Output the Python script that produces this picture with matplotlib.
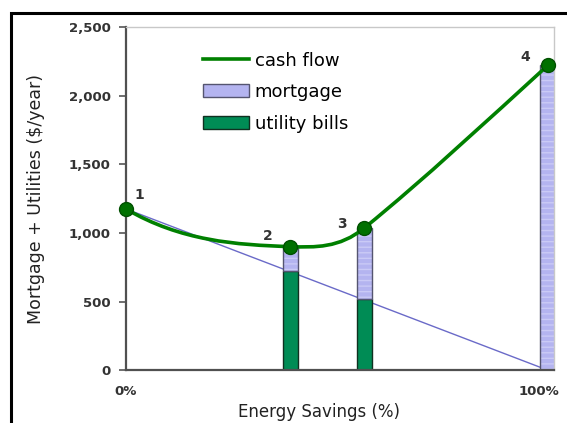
import matplotlib.pyplot as plt
from matplotlib.path import Path
from matplotlib.patches import PathPatch, Rectangle
from matplotlib.lines import Line2D
from matplotlib.transforms import ScaledTranslation

# data
savings = [0, 39, 56.5, 100]           # energy savings (%)
cash_flow = [1175, 900, 1035, 2220]     # mortgage + utilities ($/year)
point_labels = ['1', '2', '3', '4']
curve_slopes = [-18, -1, 25, 28]        # tangent of the smoothed line at each point

bar_x = [39, 56.5, 100]
utility = [720, 520, 0]
mortgage = [180, 515, 2220]

util_line_x = [0, 100]
util_line_y = [1175, 0]

green = '#008000'
bar_green = '#008c55'
lavender = '#b4b4f0'

fig = plt.figure(figsize=(5.67, 4.23), dpi=100)
ax = fig.add_axes([0.222, 0.125, 0.755, 0.811])

# bars
w = 3.6
ax.bar(bar_x, utility, width=w, color=bar_green, edgecolor='#103020', linewidth=1, zorder=2)
ax.bar(bar_x, mortgage, width=w, bottom=utility, color=lavender, edgecolor='none', zorder=2)
ax.bar(bar_x, mortgage, width=w, bottom=utility, fill=False, hatch='---',
       edgecolor='#cacaf6', linewidth=0, zorder=2)
ax.bar(bar_x, mortgage, width=w, bottom=utility, fill=False, edgecolor='#555570',
       linewidth=1, zorder=2)

# utility-bill line
ax.plot(util_line_x, util_line_y, color='#6a6ac8', lw=1, zorder=1)

# smoothed cash flow line (cubic bezier through the points)
verts = [(savings[0], cash_flow[0])]
codes = [Path.MOVETO]
for i in range(len(savings) - 1):
    h = (savings[i + 1] - savings[i]) / 3
    verts += [(savings[i] + h, cash_flow[i] + curve_slopes[i] * h),
              (savings[i + 1] - h, cash_flow[i + 1] - curve_slopes[i + 1] * h),
              (savings[i + 1], cash_flow[i + 1])]
    codes += [Path.CURVE4] * 3
ax.add_patch(PathPatch(Path(verts, codes), fill=False, edgecolor=green, lw=2.6,
                       capstyle='round', zorder=3))
ax.plot(savings, cash_flow, 'o', color='#007000', mec='#005000', ms=10, zorder=4,
        clip_on=False)

offsets = [(10, 10), (-16, 8), (-16, 3), (-16, 6)]
for x, y, t, off in zip(savings, cash_flow, point_labels, offsets):
    ax.annotate(t, (x, y), xytext=off, textcoords='offset points', ha='center',
                va='center', fontsize=10, fontweight='bold', color='#333333')

ax.set_xlim(0, 101.5)
ax.set_ylim(0, 2500)
ax.set_yticks([0, 500, 1000, 1500, 2000, 2500])
ax.set_yticklabels(['0', '500', '1,000', '1,500', '2,000', '2,500'],
                   fontsize=9.5, fontweight='bold', color='#333333')
ax.set_xticks([0, 100])
ax.set_xticklabels(['0%', '100%'], fontsize=9.5, fontweight='bold', color='#333333')
ax.tick_params(axis='x', length=0, pad=11)
ax.tick_params(axis='y', length=5, color='#555555', width=1.2, pad=6)
lbl = ax.get_xticklabels()[1]
lbl.set_transform(lbl.get_transform() + ScaledTranslation(-6 / 72, 0, fig.dpi_scale_trans))

for s in ['left', 'bottom']:
    ax.spines[s].set_color('#505050')
    ax.spines[s].set_linewidth(1.6)
for s in ['top', 'right']:
    ax.spines[s].set_color('#c8c8c8')
    ax.spines[s].set_linewidth(1)

ax.set_xlabel('Energy Savings (%)', fontsize=12, color='#222222')
ax.xaxis.set_label_coords(0.45, -0.095)
ax.set_ylabel('Mortgage + Utilities ($/year)', fontsize=12.5, color='#222222')
ax.yaxis.set_label_coords(-0.19, 0.5)

handles = [Line2D([], [], color=green, lw=2.6),
           Rectangle((0, 0), 1, 1, facecolor=lavender, edgecolor='#555570'),
           Rectangle((0, 0), 1, 1, facecolor=bar_green, edgecolor='#103020')]
ax.legend(handles, ['cash flow', 'mortgage', 'utility bills'], loc='upper left',
          bbox_to_anchor=(0.16, 0.955), frameon=False, fontsize=13, borderpad=0,
          handlelength=2.5, handletextpad=0.35, labelspacing=0.75)

# outer frame
fig.patches.append(Rectangle((0.02, -0.05), 1.2, 1.02, transform=fig.transFigure,
                             fill=False, edgecolor='black', lw=2.2))

fig.savefig('out.png', dpi=100)
